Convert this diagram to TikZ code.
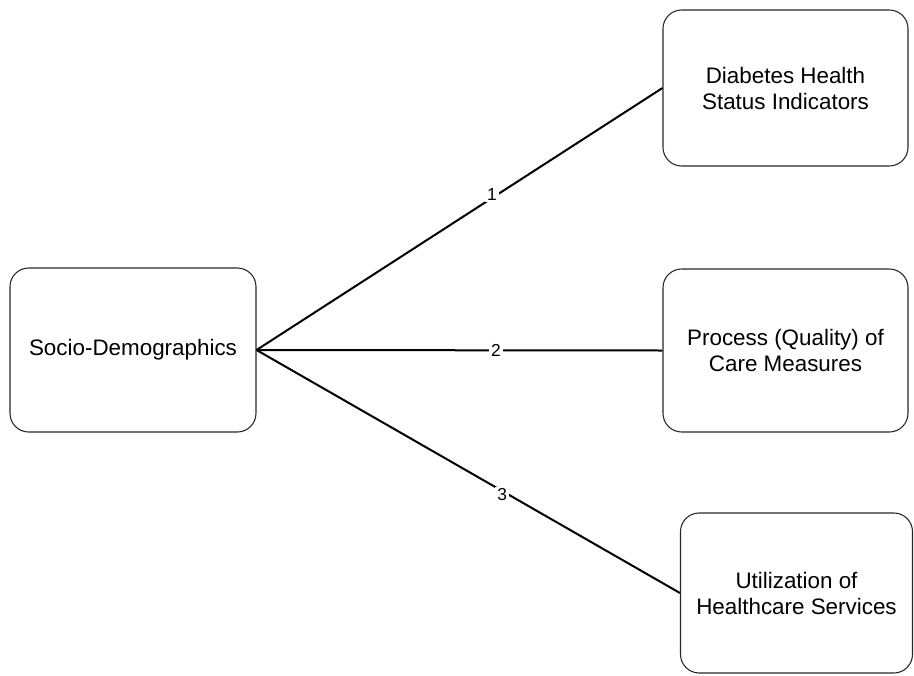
\documentclass[tikz,border=0pt]{standalone}
\usepackage{fontspec}
\setmainfont{Liberation Sans}
\usepackage{tikz}
\usetikzlibrary{positioning}

\begin{document}
\begin{tikzpicture}[x=0.75pt, y=-0.75pt,
    box/.style={draw=black!85, line width=0.8pt, rounded corners=14pt, align=center,
        font=\fontsize{16.8}{19.5}\selectfont},
    link/.style={draw=black, line width=1.5pt},
    lbl/.style={fill=white, inner sep=1.5pt, font=\fontsize{13}{15}\selectfont}]
        \useasboundingbox (0,0) rectangle (914,675);
        % Boxes
        \node [box, minimum width=184.5pt, minimum height=123pt] (socio) at (133,350) {Socio-Demographics};
        \node [box, minimum width=183.75pt, minimum height=117pt] (health) at (785.5,88) {Diabetes Health\\Status Indicators};
        \node [box, minimum width=183.75pt, minimum height=122.25pt] (care) at (785.5,350.5) {Process (Quality) of\\Care Measures};
        \node [box, minimum width=174pt, minimum height=120pt] (usage) at (796.5,593) {Utilization of\\Healthcare Services};
        % Links
        \draw [link] (socio.east) -- node[lbl, pos=0.58, yshift=3pt] {1} (health.west);
        \draw [link] (socio.east) -- node[lbl, pos=0.59] {2} (care.west);
        \draw [link] (socio.east) -- node[lbl, pos=0.58, yshift=-3pt] {3} (usage.west);
    \end{tikzpicture}
\end{document}
